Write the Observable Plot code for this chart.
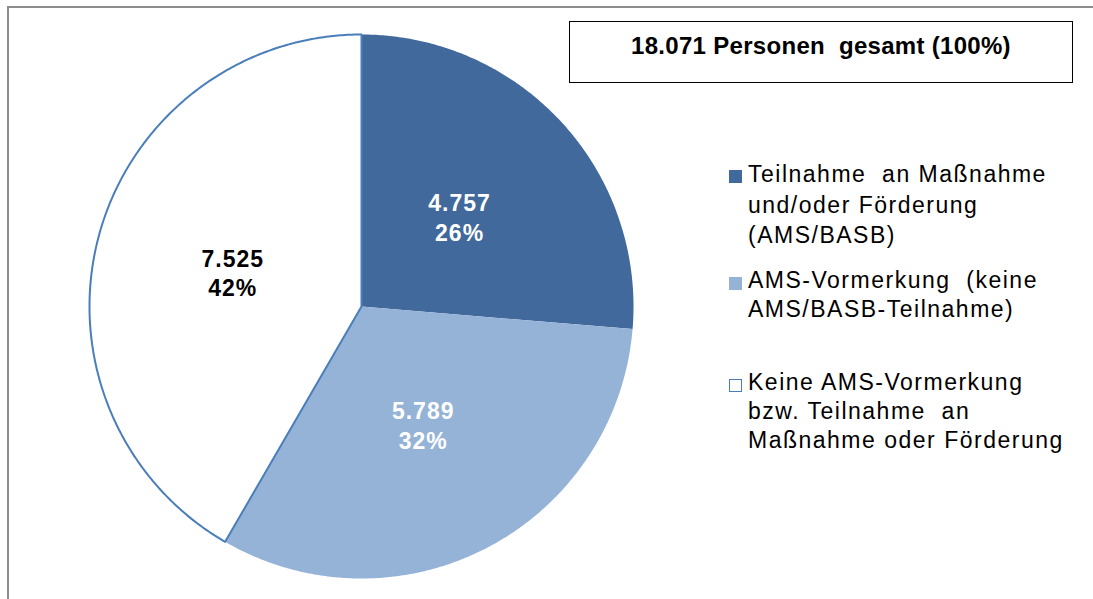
<!DOCTYPE html>
<html>
<head>
<meta charset="utf-8">
<script src="https://cdn.jsdelivr.net/npm/d3@7"></script>
<script src="https://cdn.jsdelivr.net/npm/@observablehq/plot@0.6"></script>
<style>
  html, body { margin: 0; padding: 0; background: #fff; }
  #wrap { position: relative; width: 1093px; height: 599px; overflow: hidden; font-family: "Liberation Sans", Arial, sans-serif; }
  #frame { position: absolute; left: 7px; top: 6px; width: 1200px; height: 700px; border: 2px solid #8c8c8c; box-sizing: border-box; }
  #chart { position: absolute; left: 0; top: 0; }
  #chart svg g[aria-label="text"] text { letter-spacing: 1px; }
  #title { position: absolute; left: 569px; top: 21px; width: 504px; height: 62px; box-sizing: border-box; border: 1.5px solid #000; text-align: center; font-weight: bold; font-size: 24px; line-height: 47px; letter-spacing: 0.3px; color: #000; white-space: pre; }
  .leg { position: absolute; left: 748px; font-size: 23px; letter-spacing: 1.5px; color: #000; white-space: pre; }
  .sw { position: absolute; left: 729px; width: 13px; height: 13px; box-sizing: border-box; }
</style>
</head>
<body>
<div id="wrap">
  <div id="frame"></div>
  <div id="chart"></div>
  <div id="title"></div>
</div>
<script>
// ---- data ----
const categories = [
  "Teilnahme an Maßnahme und/oder Förderung (AMS/BASB)",
  "AMS-Vormerkung (keine AMS/BASB-Teilnahme)",
  "Keine AMS-Vormerkung bzw. Teilnahme an Maßnahme oder Förderung"
];
const values = [4757, 5789, 7525];
const legendLines = [
  ["Teilnahme  an Maßnahme", "und/oder Förderung", "(AMS/BASB)"],
  ["AMS-Vormerkung  (keine", "AMS/BASB-Teilnahme)"],
  ["Keine AMS-Vormerkung", "bzw. Teilnahme  an", "Maßnahme oder Förderung"]
];
const colors = ["#41699B", "#95B3D7", "#FFFFFF"];
const labelColors = ["#FFFFFF", "#FFFFFF", "#000000"];
const outline = "#4A7EBB";

// ---- layout ----
const W = 1093, H = 599, cx = 361, cy = 306, R = 272, labelR = 0.49;

const de = d3.formatLocale({decimal: ",", thousands: ".", grouping: [3], currency: ["", " €"]});
const fmt = de.format(",d");
const total = d3.sum(values);

const arcs = d3.pie().sort(null).value(d => d)(values);

const slices = arcs.map((a, i) => {
  const pts = [{x: 0, y: 0}];
  const n = Math.max(2, Math.ceil((a.endAngle - a.startAngle) / (Math.PI / 360)));
  for (let k = 0; k <= n; k++) {
    const t = a.startAngle + (a.endAngle - a.startAngle) * k / n;
    pts.push({x: Math.sin(t), y: Math.cos(t)});
  }
  return {i, pts};
});

const labels = arcs.map((a, i) => {
  const m = (a.startAngle + a.endAngle) / 2;
  return {
    x: labelR * Math.sin(m),
    y: labelR * Math.cos(m),
    text: fmt(values[i]) + "\n" + Math.round(values[i] / total * 100) + "%",
    fill: labelColors[i]
  };
});

const marks = [0, 1, 2].map(i => Plot.line(slices[i].pts, {
  x: "x", y: "y",
  curve: "linear-closed",
  fill: colors[i],
  stroke: i === 2 ? outline : "none",
  strokeWidth: 2,
  strokeLinejoin: "round"
}));
marks.push(Plot.text(labels, {
  x: "x", y: "y", text: "text", fill: "fill",
  fontSize: 23, fontWeight: "bold", lineHeight: 1.3,
  fontFamily: "Liberation Sans, Arial, sans-serif"
}));

const plot = Plot.plot({
  width: W, height: H,
  margin: 0,
  x: {domain: [-1, 1], range: [cx - R, cx + R], axis: null},
  y: {domain: [-1, 1], range: [cy + R, cy - R], axis: null},
  style: {background: "transparent", overflow: "visible"},
  marks
});
document.getElementById("chart").appendChild(plot);

document.getElementById("title").textContent = fmt(total) + " Personen  gesamt (100%)";

// legend
const wrap = document.getElementById("wrap");
const itemTops = [159, 266, 368];
const lineH = [30.5, 29, 29];
legendLines.forEach((lines, i) => {
  const sw = document.createElement("div");
  sw.className = "sw";
  sw.style.top = (itemTops[i] + 11) + "px";
  sw.style.background = colors[i];
  sw.style.border = i === 2 ? "1.5px solid " + outline : "none";
  wrap.appendChild(sw);
  const t = document.createElement("div");
  t.className = "leg";
  t.style.top = itemTops[i] + "px";
  t.style.lineHeight = lineH[i] + "px";
  t.textContent = lines.join("\n");
  t.title = categories[i];
  wrap.appendChild(t);
});
</script>
</body>
</html>
